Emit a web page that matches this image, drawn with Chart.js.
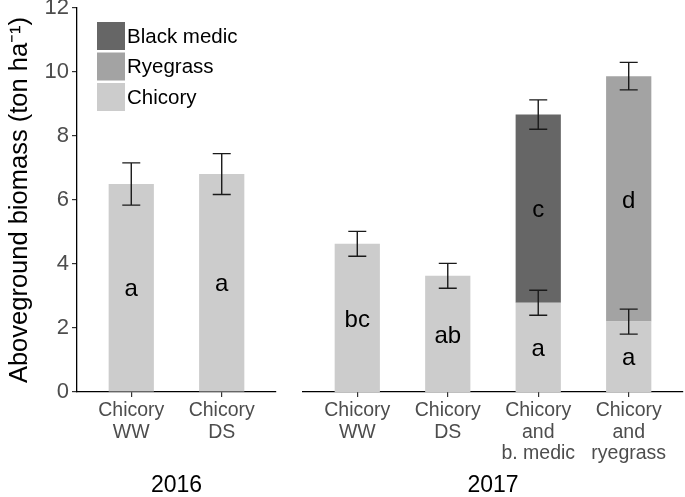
<!DOCTYPE html>
<html><head><meta charset="utf-8">
<script src="https://cdn.jsdelivr.net/npm/chart.js@4"></script>
<style>
html,body{margin:0;padding:0;background:#fff;}
#wrap{position:relative;width:685px;height:497px;overflow:hidden;background:#fff;}
.pane{position:absolute;top:0;height:497px;}
</style></head><body>
<div id="wrap">
<div class="pane" style="left:0;width:280px"><canvas id="c1" width="280" height="497"></canvas></div>
<div class="pane" style="left:280px;width:405px"><canvas id="c2" width="405" height="497"></canvas></div>
</div>
<script>
// ---- data ----
const categories2016 = [['Chicory','WW'],['Chicory','DS']];
const categories2017 = [['Chicory','WW'],['Chicory','DS'],['Chicory','and','b. medic'],['Chicory','and','ryegrass']];
const panelTitles = ['2016','2017'];
const chicory2016 = [6.50, 6.81];
const chicory2016Err = [0.66, 0.64];
const chicory2016Letters = ['a','a'];
const chicory2017 = [4.63, 3.63, 2.79, 2.20];
const chicory2017Err = [0.39, 0.39, 0.39, 0.39];
const chicory2017Letters = ['bc','ab','a','a'];
const blackMedic2017 = [null, null, 5.88, null];
const blackMedicTotalErr = [null, null, 0.46, null];
const blackMedicLetters = ['', '', 'c', ''];
const ryegrass2017 = [null, null, null, 7.67];
const ryegrassTotalErr = [null, null, null, 0.43];
const ryegrassLetters = ['', '', '', 'd'];
const yTicks = [0, 2, 4, 6, 8, 10, 12];
const seriesNames = ['Chicory', 'Ryegrass', 'Black medic'];

// ---- styles ----
const FONT = "'Liberation Sans', Arial, Helvetica, sans-serif";
const COLORS = {'Chicory':'#cccccc','Ryegrass':'#a3a3a3','Black medic':'#666666'};
const TICK_GRAY = '#4d4d4d';

function toXY(arr){ return arr.map((v,i)=>({x:i, y:v})); }

const errLetterPlugin = {
  id:'errLetters',
  afterDatasetsDraw(chart){
    const ctx = chart.ctx, ys = chart.scales.y;
    chart.data.datasets.forEach((ds, di)=>{
      const meta = chart.getDatasetMeta(di);
      meta.data.forEach((el,i)=>{
        if (ds.data[i].y == null) return;
        const letter = ds.letters && ds.letters[i];
        if (letter){
          ctx.save(); ctx.fillStyle='#000'; ctx.font='24px '+FONT;
          ctx.textAlign='center'; ctx.textBaseline='middle';
          ctx.fillText(letter, el.x, (el.y+el.base)/2 + 2);
          ctx.restore();
        }
      });
    });
    chart.data.datasets.forEach((ds, di)=>{
      const meta = chart.getDatasetMeta(di);
      meta.data.forEach((el,i)=>{
        if (ds.data[i].y == null) return;
        const e = ds.err && ds.err[i];
        if (e == null) return;
        const top = ys.getValueForPixel(el.y);
        const y1 = ys.getPixelForValue(top + e), y2 = ys.getPixelForValue(top - e);
        ctx.save(); ctx.strokeStyle='#1a1a1a'; ctx.lineWidth=1.4;
        ctx.beginPath();
        ctx.moveTo(el.x, y1); ctx.lineTo(el.x, y2);
        ctx.moveTo(el.x-9, y1); ctx.lineTo(el.x+9, y1);
        ctx.moveTo(el.x-9, y2); ctx.lineTo(el.x+9, y2);
        ctx.stroke(); ctx.restore();
      });
    });
  }
};

const legendPlugin = {
  id:'customLegend',
  afterDraw(chart){
    const ctx = chart.ctx;
    const items = seriesNames.slice().reverse();
    items.forEach((name, k)=>{
      const y = 22 + k*30.5;
      ctx.save();
      ctx.fillStyle = COLORS[name];
      ctx.fillRect(97, y, 28, 28);
      ctx.fillStyle = '#000'; ctx.font = '20.5px '+FONT;
      ctx.textAlign='left'; ctx.textBaseline='middle';
      ctx.fillText(name, 127, y+15);
      ctx.restore();
    });
  }
};

function xScale(cats, title){
  return {
    type:'linear', min:-0.6, max:cats.length-1+0.6, offset:false, stacked:true,
    afterBuildTicks: s => { s.ticks = cats.map((c,i)=>({value:i})); },
    ticks:{ callback:(v)=>cats[v], color:TICK_GRAY, font:{family:FONT,size:19.5,lineHeight:1.11},
            padding:3, autoSkip:false, maxRotation:0, minRotation:0 },
    grid:{ display:true, offset:false, drawOnChartArea:false, drawTicks:true, tickLength:5, color:'#333', lineWidth:1.2 },
    border:{ display:true, color:'#000', width:1.3 },
    title:{ display:true, text:title, color:'#000', font:{family:FONT,size:23,lineHeight:1}, padding:{top:0,bottom:0} },
    afterFit: s => { s.height = 105; s.paddingLeft = 0; s.paddingRight = 0; }
  };
}

const baseOpts = {
  responsive:false, animation:false,
  plugins:{ legend:{display:false}, tooltip:{enabled:false} },
};

new Chart(document.getElementById('c1'), {
  type:'bar',
  data:{ datasets:[
    { label:'Chicory', data:toXY(chicory2016), err:chicory2016Err, letters:chicory2016Letters,
      backgroundColor:COLORS['Chicory'], borderWidth:0, barPercentage:0.5, categoryPercentage:1 }
  ]},
  options:{ ...baseOpts,
    layout:{ padding:{left:0, right:4, top:8, bottom:0} },
    scales:{
      x: xScale(categories2016, panelTitles[0]),
      y: { min:0, max:12, stacked:true,
           afterBuildTicks: s => { s.ticks = yTicks.map(v=>({value:v})); },
           ticks:{ color:TICK_GRAY, font:{family:FONT,size:22}, padding:3 },
           grid:{ drawOnChartArea:false, tickLength:5, color:'#333', lineWidth:1.2 },
           border:{ color:'#000', width:1.3 },
           title:{ display:true, text:'Aboveground biomass (ton ha\u207B\u00B9)', color:'#000',
                   font:{family:FONT,size:25.5,lineHeight:1}, padding:{top:7,bottom:0} },
           afterFit: s => { s.width = 77; s.paddingTop = 0; s.paddingBottom = 0; }
      }
    }
  },
  plugins:[errLetterPlugin, legendPlugin]
});

new Chart(document.getElementById('c2'), {
  type:'bar',
  data:{ datasets:[
    { label:'Chicory', data:toXY(chicory2017), err:chicory2017Err, letters:chicory2017Letters,
      backgroundColor:COLORS['Chicory'], borderWidth:0, barPercentage:0.5, categoryPercentage:1 },
    { label:'Black medic', data:toXY(blackMedic2017), err:blackMedicTotalErr, letters:blackMedicLetters,
      backgroundColor:COLORS['Black medic'], borderWidth:0, barPercentage:0.5, categoryPercentage:1 },
    { label:'Ryegrass', data:toXY(ryegrass2017), err:ryegrassTotalErr, letters:ryegrassLetters,
      backgroundColor:COLORS['Ryegrass'], borderWidth:0, barPercentage:0.5, categoryPercentage:1 }
  ]},
  options:{ ...baseOpts,
    layout:{ padding:{left:23, right:2, top:8, bottom:0} },
    scales:{
      x: xScale(categories2017, panelTitles[1]),
      y: { display:false, min:0, max:12, stacked:true,
           afterFit: s => { s.width = 0; s.paddingTop = 0; s.paddingBottom = 0; } }
    }
  },
  plugins:[errLetterPlugin]
});
</script>
</body></html>
